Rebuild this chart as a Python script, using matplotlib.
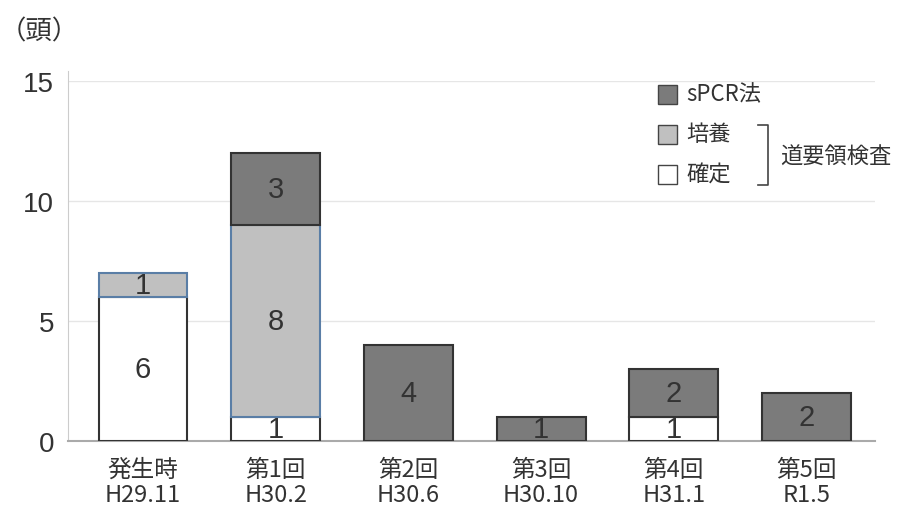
import matplotlib
matplotlib.use("Agg")
import matplotlib.pyplot as plt
from matplotlib.patches import Rectangle
import numpy as np

plt.rcParams['font.family'] = ['Noto Sans CJK JP', 'DejaVu Sans']

categories = ["発生時\nH29.11", "第1回\nH30.2", "第2回\nH30.6", "第3回\nH30.10", "第4回\nH31.1", "第5回\nR1.5"]
confirmed = [6, 1, 0, 0, 1, 0]
culture = [1, 8, 0, 0, 0, 0]
spcr = [0, 3, 4, 1, 2, 2]
yticks = [0, 5, 10, 15]

c_dark = "#7b7b7b"
c_light = "#c0c0c0"
edge_dark = "#333333"
edge_blue = "#5a7ea6"
txt = "#333333"

fig = plt.figure(figsize=(9.02, 5.10), dpi=100)
ax = fig.add_axes([68/902, 1-442/510, (875-68)/902, (442-82)/510])

x = np.arange(len(categories))
w = 0.67
conf = np.array(confirmed)
cult = np.array(culture)
sp = np.array(spcr)

for i in x:
    if conf[i] > 0:
        ax.bar(i, conf[i], w, bottom=0, color="white", edgecolor=edge_dark, linewidth=1.5, zorder=3)
    if cult[i] > 0:
        ax.bar(i, cult[i], w, bottom=conf[i], color=c_light, edgecolor=edge_blue, linewidth=1.5, zorder=4)
    if sp[i] > 0:
        ax.bar(i, sp[i], w, bottom=conf[i] + cult[i], color=c_dark, edgecolor=edge_dark, linewidth=1.5, zorder=5)
    for val, bot in ((conf[i], 0), (cult[i], conf[i]), (sp[i], conf[i] + cult[i])):
        if val > 0:
            ax.text(i, bot + val / 2, str(val), ha="center", va="center",
                    fontsize=21, color=txt, zorder=6, family=['Liberation Sans', 'DejaVu Sans'])

ax.set_xlim(-0.565, 5.516)
ax.set_ylim(0, 15)
ax.set_yticks(yticks)
ax.set_yticklabels([str(t) for t in yticks], fontsize=20, color=txt, family=['Liberation Sans', 'DejaVu Sans'])
ax.set_xticks(x)
ax.set_xticklabels(categories, fontsize=17, color=txt, linespacing=1.15)
ax.tick_params(axis="both", length=0)
ax.tick_params(axis="y", pad=10)
ax.tick_params(axis="x", pad=12)
ax.yaxis.grid(True, color="#e6e6e6", linewidth=1, zorder=0)
for s in ["top", "right"]:
    ax.spines[s].set_visible(False)
ax.spines["left"].set_color("#cccccc")
ax.spines["left"].set_bounds(0, 15.4)
ax.spines["bottom"].set_color("#aaaaaa")
ax.spines["bottom"].set_linewidth(1.5)
ax.set_axisbelow(True)
ax.set_ylim(0, 15)

# (頭) unit label
fig.text(0/902, 1-32/510, "（頭）", fontsize=19, color=txt, va="center", ha="left")

# custom legend
leg = [("sPCR法", c_dark, 95), ("培養", c_light, 135), ("確定", "white", 175)]
for lab, col, yc in leg:
    fig.patches.append(Rectangle((658/902, 1-(yc+10)/510), 19/902, 19/510, transform=fig.transFigure,
                                 facecolor=col, edgecolor="#444444", linewidth=1))
    fig.text(686/902, 1-yc/510, lab, fontsize=16, color=txt, va="center", ha="left")
# bracket
bx0, bx1 = 758/902, 768/902
yt, yb = 1-126/510, 1-186/510
fig.lines.append(plt.Line2D([bx0, bx1, bx1, bx0], [yt, yt, yb, yb], transform=fig.transFigure,
                            color="#444444", linewidth=1.2))
fig.text(780/902, 1-157/510, "道要領検査", fontsize=16, color=txt, va="center", ha="left")

fig.savefig("out.png", dpi=100)
